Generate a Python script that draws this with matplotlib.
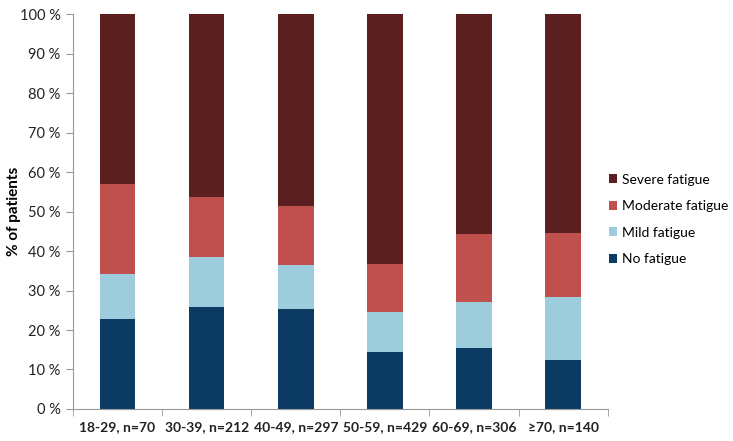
import matplotlib
matplotlib.use("Agg")
import matplotlib.pyplot as plt
import numpy as np

plt.rcParams['font.family'] = ['Lato', 'DejaVu Sans']

groups = ['18-29, n=70', '30-39, n=212', '40-49, n=297', '50-59, n=429', '60-69, n=306', '≥70, n=140']
no_fatigue = np.array([22.7, 25.8, 25.2, 14.4, 15.5, 12.4])
mild = np.array([11.5, 12.8, 11.2, 10.1, 11.7, 15.9])
moderate = np.array([22.9, 15.1, 14.9, 12.1, 17.1, 16.3])
severe = 100 - no_fatigue - mild - moderate

colors = {'No fatigue': '#0b3a62', 'Mild fatigue': '#9dcddc',
          'Moderate fatigue': '#c0504d', 'Severe fatigue': '#5b1f1f'}

fig = plt.figure(figsize=(7.33, 4.41), dpi=100)
ax = fig.add_axes([0.0996, 0.0726, 0.7294, 0.8954])

x = np.arange(len(groups))
w = 0.4
bottom = np.zeros(len(groups))
for name, vals in [('No fatigue', no_fatigue), ('Mild fatigue', mild),
                   ('Moderate fatigue', moderate), ('Severe fatigue', severe)]:
    ax.bar(x, vals, w, bottom=bottom, color=colors[name], label=name)
    bottom += vals

ax.set_xlim(-0.5, len(groups) - 0.5)
ax.set_ylim(0, 100)
ax.set_yticks(np.arange(0, 101, 10))
ax.set_yticklabels([f'{v} %' for v in range(0, 101, 10)], fontsize=10.5, color='#222222')
ax.set_xticks(x)
ax.set_xticklabels(groups, fontsize=10, fontweight='bold', color='#222222')
ax.set_xticks(np.arange(-0.5, len(groups)), minor=True)
ax.tick_params(axis='x', which='major', length=0, pad=9)
ax.tick_params(axis='x', which='minor', length=5, color='#999999')
ax.tick_params(axis='y', length=5, color='#999999', pad=4)
ax.set_ylabel('% of patients', fontsize=11, fontweight='bold')
ax.yaxis.set_label_coords(-0.098, 0.5)

for s in ['top', 'right']:
    ax.spines[s].set_visible(False)
for s in ['left', 'bottom']:
    ax.spines[s].set_color('#999999')

handles, labels = ax.get_legend_handles_labels()
ax.legend(handles[::-1], labels[::-1], loc='center left', bbox_to_anchor=(1.0, 0.48),
          frameon=False, fontsize=10, handlelength=0.6, handleheight=0.6,
          handletextpad=0.3, labelspacing=1.05, borderaxespad=0.0, borderpad=0.1)

fig.savefig('out.png', dpi=100)
